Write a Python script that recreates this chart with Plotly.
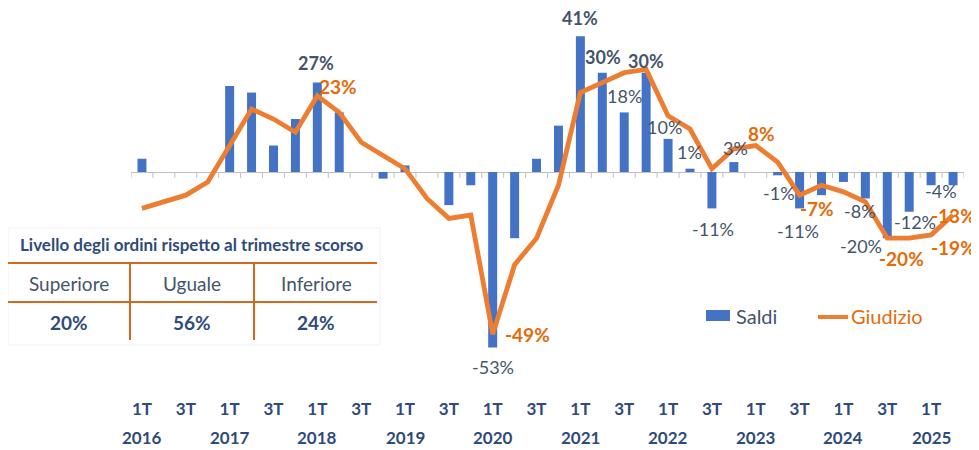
import plotly.graph_objects as go

# %% data
quarters = ["1T", "2T", "3T", "4T"]
years = list(range(2016, 2026))
cats = [f"{q} {y}" for y in years for q in quarters][:38]   # 1T 2016 .. 2T 2025

saldi = [4, 0, 0, 0, 26, 24, 8, 16, 27, 18,
         0, -2, 2, 0, -10, -4, -53, -20, 4, 14,
         41, 30, 18, 30, 10, 1, -11, 3, 0, -1,
         -11, -7, -3, -8, -20, -12, -4, -4]

giudizio = [-11, -9, -7, -3, 8, 19, 16, 12, 23, 18,
            9, 5, 1, -8, -14, -13, -49, -28, -20, -4,
            24, 27, 30, 31, 17, 13, 1, 7, 8, 3,
            -7, -4, -6, -9, -20, -20, -19, -13]

saldi_labelled = [8, 16, 20, 21, 22, 23, 24, 25, 26, 27, 29, 30, 33, 34, 35, 37]
giudizio_labelled = [8, 16, 28, 30, 35, 36, 37]

tick_idx = list(range(0, 38, 2))
tick_text = [cats[i].split()[0] for i in tick_idx]
year_idx = list(range(0, 38, 4))
year_text = [cats[i].split()[1] for i in year_idx]

table_title = "Livello degli ordini rispetto al trimestre scorso"
table_head = ["Superiore", "Uguale", "Inferiore"]
table_vals = ["20%", "56%", "24%"]

# %% styles
BLUE = "#4472C4"
ORANGE = "#ED7D31"
ORANGE_TXT = "#E36C0A"
SLATE = "#44546A"
NAVY = "#2F4B7A"
TAB = "#D2691E"
FONT = "Lato"

# the page body has an 8px margin, so the figure is shrunk by that much
OFF = 8
W, H = 979 - OFF, 450 - OFF
# plot area in page pixels: x 131..964, y 10..390
ML, MR, MT, MB = 131 - OFF, 979 - 964, 10 - OFF, 450 - 390
Y_TOP, Y_BOT = 48.94, -65.86

def px(x):
    # page pixel -> paper x
    return (x - OFF - ML) / (W - ML - MR)

def py(y):
    return (H - MB - (y - OFF)) / (H - MT - MB)

fig = go.Figure()

fig.add_trace(go.Bar(x=list(range(len(cats))), y=saldi, name="Saldi",
                     marker=dict(color=BLUE, line=dict(width=0)), width=0.41))

# little ticks hanging under the zero line, at category boundaries
tx, ty = [], []
for i in range(len(cats) + 1):
    tx += [i - 0.5, i - 0.5, None]
    ty += [0, -1.8, None]
fig.add_trace(go.Scatter(x=tx, y=ty, mode="lines", line=dict(color="#BFBFBF", width=1),
                         hoverinfo="skip", showlegend=False))

fig.add_trace(go.Scatter(x=list(range(len(cats))), y=giudizio, name="Giudizio",
                         mode="lines", line=dict(color=ORANGE, width=4.8)))

# data labels (offsets in px)
bar_off = {8: (-1, 20), 16: (0, -20), 20: (0, 18), 21: (1, 16), 22: (0, 16), 23: (0, 12),
           24: (-4, 12), 25: (0, 17), 26: (1, -21), 27: (2, 14), 29: (1, -18), 30: (-2, -23),
           33: (-5, -13), 34: (-26, -8), 35: (6, -10), 37: (-12, -6)}
bold_bars = {8, 20, 21, 23}
ann = []
for i in saldi_labelled:
    dx, dy = bar_off[i]
    t = f"{saldi[i]}%"
    if i in bold_bars:
        t = f"<b>{t}</b>"
    ann.append(dict(x=i, y=saldi[i], text=t, showarrow=False, xshift=dx, yshift=dy,
                    font=dict(family=FONT, size=18, color=SLATE)))

line_off = {8: (21, 9), 16: (35, 0), 28: (6, 12), 30: (17, -13), 35: (-8, -20),
            36: (22, -13), 37: (0, 0)}
for i in giudizio_labelled:
    dx, dy = line_off[i]
    ann.append(dict(x=i, y=giudizio[i], text=f"<b>{giudizio[i]}%</b>", showarrow=False,
                    xshift=dx, yshift=dy, font=dict(family=FONT, size=19, color=ORANGE_TXT)))

for i, t in zip(year_idx, year_text):
    ann.append(dict(x=i, y=0, yref="paper", text=f"<b>{t}</b>", showarrow=False,
                    yanchor="middle", yshift=-47, font=dict(family=FONT, size=17, color=NAVY)))

# table box
shapes = [
    dict(type="rect", xref="paper", yref="paper", x0=px(OFF), x1=px(380), y0=py(228), y1=py(345),
         fillcolor="white", line=dict(color="#F2F2F2", width=1), layer="above"),
    dict(type="line", xref="paper", yref="paper", x0=px(OFF), x1=px(377), y0=py(263), y1=py(263),
         line=dict(color=TAB, width=2)),
    dict(type="line", xref="paper", yref="paper", x0=px(OFF), x1=px(377), y0=py(302), y1=py(302),
         line=dict(color=TAB, width=2)),
    dict(type="line", xref="paper", yref="paper", x0=px(130), x1=px(130), y0=py(263), y1=py(340),
         line=dict(color=TAB, width=2)),
    dict(type="line", xref="paper", yref="paper", x0=px(254), x1=px(254), y0=py(263), y1=py(340),
         line=dict(color=TAB, width=2)),
]
ann.append(dict(xref="paper", yref="paper", x=px(192), y=py(244), text=f"<b>{table_title}</b>",
                xanchor="center", yanchor="middle", showarrow=False,
                font=dict(family=FONT, size=17, color=NAVY)))
for cx, h, v in zip([69, 192, 316], table_head, table_vals):
    ann.append(dict(xref="paper", yref="paper", x=px(cx), y=py(283), text=h, showarrow=False,
                    xanchor="center", yanchor="middle",
                    font=dict(family=FONT, size=19, color=SLATE)))
    ann.append(dict(xref="paper", yref="paper", x=px(cx), y=py(322), text=f"<b>{v}</b>",
                    xanchor="center", yanchor="middle", showarrow=False,
                    font=dict(family=FONT, size=19, color=NAVY)))

# legend drawn by hand
shapes.append(dict(type="rect", xref="paper", yref="paper", x0=px(706), x1=px(730),
                   y0=py(310), y1=py(321), fillcolor=BLUE, line=dict(width=0)))
shapes.append(dict(type="line", xref="paper", yref="paper", x0=px(818), x1=px(848),
                   y0=py(317), y1=py(317), line=dict(color=ORANGE, width=4)))
ann.append(dict(xref="paper", yref="paper", x=px(734), y=py(316), xanchor="left",
                yanchor="middle", text="Saldi",
                showarrow=False, font=dict(family=FONT, size=20, color=SLATE)))
ann.append(dict(xref="paper", yref="paper", x=px(849), y=py(316), xanchor="left",
                yanchor="middle", text="Giudizio",
                showarrow=False, font=dict(family=FONT, size=20, color=ORANGE_TXT)))

fig.update_layout(
    width=W, height=H,
    margin=dict(l=ML, r=MR, t=MT, b=MB),
    plot_bgcolor="white", paper_bgcolor="white",
    showlegend=False,
    xaxis=dict(range=[-0.5, len(cats) - 0.5], tickvals=tick_idx,
               ticktext=[f"<b>{t}</b>" for t in tick_text],
               tickfont=dict(family=FONT, size=17, color=NAVY),
               showgrid=False, zeroline=False, showline=False, ticks="",
               ticklabelstandoff=7),
    yaxis=dict(range=[Y_BOT, Y_TOP], showgrid=False, showticklabels=False,
               zeroline=True, zerolinecolor="#BFBFBF", zerolinewidth=1, showline=False),
    annotations=ann,
    shapes=shapes,
)

fig.write_html("out.html")
